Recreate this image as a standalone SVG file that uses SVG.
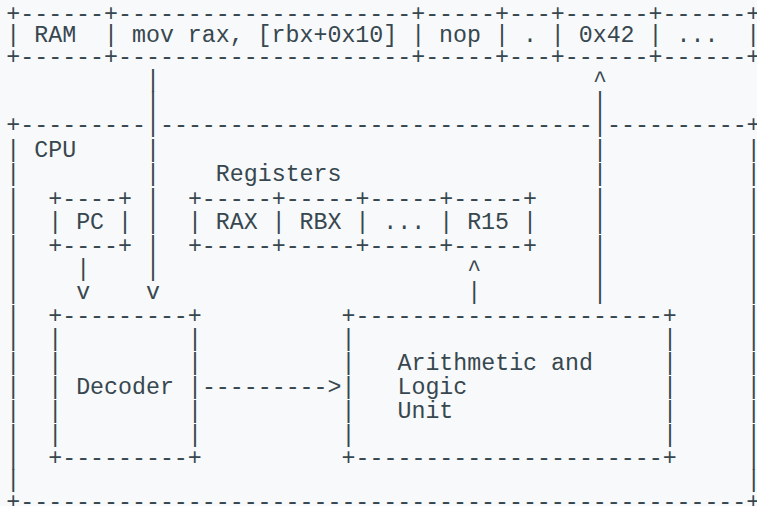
<svg xmlns="http://www.w3.org/2000/svg" width="757" height="506" viewBox="0 0 757 506" xml:space="preserve">
  <style>
    .t { font-family: "Liberation Mono", "DejaVu Sans Mono", monospace; font-size: 23.28px; fill: #37474f; white-space: pre; }
  </style>
  <rect width="757" height="506" fill="#f8f9fa"/>

  <!-- memory strip -->
  <g id="ram">
    <text class="t"><tspan x="6.3" y="20.5">+------+---------------------+-----+---+------+------+</tspan><tspan x="6.3" y="42.2">| RAM  | mov rax, [rbx+0x10] | nop | . | 0x42 | ...  |</tspan><tspan x="6.3" y="63.7">+------+---------------------+-----+---+------+------+</tspan></text>
  </g>

  <!-- processor frame -->
  <g id="cpu">
    <text class="t"><tspan x="6.3" y="132">+---------</tspan><tspan x="159.97" y="132">-------------------------------</tspan><tspan x="607.01" y="132">----------+</tspan></text>
    <text class="t"><tspan x="34.24" y="156.5">CPU</tspan></text>
    <text class="t"><tspan x="6.3" y="156.5">|</tspan><tspan x="6.3" y="181">|</tspan><tspan x="6.3" y="205.8">|</tspan><tspan x="6.3" y="229.4">|</tspan><tspan x="6.3" y="253">|</tspan><tspan x="6.3" y="276.2">|</tspan><tspan x="6.3" y="299.3">|</tspan><tspan x="6.3" y="322.5">|</tspan><tspan x="6.3" y="346.3">|</tspan><tspan x="6.3" y="370.1">|</tspan><tspan x="6.3" y="393.9">|</tspan><tspan x="6.3" y="417.7">|</tspan><tspan x="6.3" y="441.5">|</tspan><tspan x="6.3" y="465.3">|</tspan><tspan x="6.3" y="487">|</tspan></text>
    <text class="t"><tspan x="746.71" y="156.5">|</tspan><tspan x="746.71" y="181">|</tspan><tspan x="746.71" y="205.8">|</tspan><tspan x="746.71" y="229.4">|</tspan><tspan x="746.71" y="253">|</tspan><tspan x="746.71" y="276.2">|</tspan><tspan x="746.71" y="299.3">|</tspan><tspan x="746.71" y="322.5">|</tspan><tspan x="746.71" y="346.3">|</tspan><tspan x="746.71" y="370.1">|</tspan><tspan x="746.71" y="393.9">|</tspan><tspan x="746.71" y="417.7">|</tspan><tspan x="746.71" y="441.5">|</tspan><tspan x="746.71" y="465.3">|</tspan><tspan x="746.71" y="487">|</tspan></text>
    <text class="t"><tspan x="6.3" y="508.7">+----------------------------------------------------+</tspan></text>
  </g>

  <!-- program counter -->
  <g id="pc">
    <text class="t"><tspan x="48.21" y="205.8">+----+</tspan><tspan x="48.21" y="229.4">| PC |</tspan><tspan x="48.21" y="253">+----+</tspan></text>
  </g>

  <!-- register file -->
  <g id="registers">
    <text class="t"><tspan x="215.85" y="181">Registers</tspan></text>
    <text class="t"><tspan x="187.91" y="205.8">+-----+-----+-----+-----+</tspan><tspan x="187.91" y="229.4">| RAX | RBX | ... | R15 |</tspan><tspan x="187.91" y="253">+-----+-----+-----+-----+</tspan></text>
  </g>

  <!-- instruction decoder -->
  <g id="decoder">
    <text class="t"><tspan x="48.21" y="322.5">+---------+</tspan><tspan x="48.21" y="465.3">+---------+</tspan></text>
    <text class="t"><tspan x="48.21" y="346.3">|</tspan><tspan x="48.21" y="370.1">|</tspan><tspan x="48.21" y="393.9">|</tspan><tspan x="48.21" y="417.7">|</tspan><tspan x="48.21" y="441.5">|</tspan></text>
    <text class="t"><tspan x="187.91" y="346.3">|</tspan><tspan x="187.91" y="370.1">|</tspan><tspan x="187.91" y="393.9">|</tspan><tspan x="187.91" y="417.7">|</tspan><tspan x="187.91" y="441.5">|</tspan></text>
    <text class="t" x="76.15" y="393.9">Decoder</text>
  </g>

  <!-- arithmetic and logic unit -->
  <g id="alu">
    <text class="t"><tspan x="341.58" y="322.5">+----------------------+</tspan><tspan x="341.58" y="465.3">+----------------------+</tspan></text>
    <text class="t"><tspan x="341.58" y="346.3">|</tspan><tspan x="341.58" y="370.1">|</tspan><tspan x="341.58" y="393.9">|</tspan><tspan x="341.58" y="417.7">|</tspan><tspan x="341.58" y="441.5">|</tspan></text>
    <text class="t"><tspan x="662.89" y="346.3">|</tspan><tspan x="662.89" y="370.1">|</tspan><tspan x="662.89" y="393.9">|</tspan><tspan x="662.89" y="417.7">|</tspan><tspan x="662.89" y="441.5">|</tspan></text>
    <text class="t"><tspan x="397.46" y="370.1">Arithmetic and</tspan><tspan x="397.46" y="393.9">Logic</tspan><tspan x="397.46" y="417.7">Unit</tspan></text>
  </g>

  <!-- data and control paths -->
  <g id="connectors">
    <!-- RAM to decoder -->
    <text class="t"><tspan x="146" y="86.5">|</tspan><tspan x="146" y="109.3">|</tspan><tspan x="146" y="132">|</tspan><tspan x="146" y="156.5">|</tspan><tspan x="146" y="181">|</tspan><tspan x="146" y="205.8">|</tspan><tspan x="146" y="229.4">|</tspan><tspan x="146" y="253">|</tspan><tspan x="146" y="276.2">|</tspan><tspan x="146" y="299.3">v</tspan></text>
    <!-- PC to decoder -->
    <text class="t"><tspan x="76.15" y="276.2">|</tspan><tspan x="76.15" y="299.3">v</tspan></text>
    <!-- decoder to ALU -->
    <text class="t"><tspan x="201.88" y="393.9">---------&gt;</tspan></text>
    <!-- ALU to registers -->
    <text class="t"><tspan x="467.31" y="276.2">^</tspan><tspan x="467.31" y="299.3">|</tspan></text>
    <!-- ALU to RAM -->
    <text class="t"><tspan x="593.04" y="86.5">^</tspan><tspan x="593.04" y="109.3">|</tspan><tspan x="593.04" y="132">|</tspan><tspan x="593.04" y="156.5">|</tspan><tspan x="593.04" y="181">|</tspan><tspan x="593.04" y="205.8">|</tspan><tspan x="593.04" y="229.4">|</tspan><tspan x="593.04" y="253">|</tspan><tspan x="593.04" y="276.2">|</tspan><tspan x="593.04" y="299.3">|</tspan></text>
  </g>
</svg>
